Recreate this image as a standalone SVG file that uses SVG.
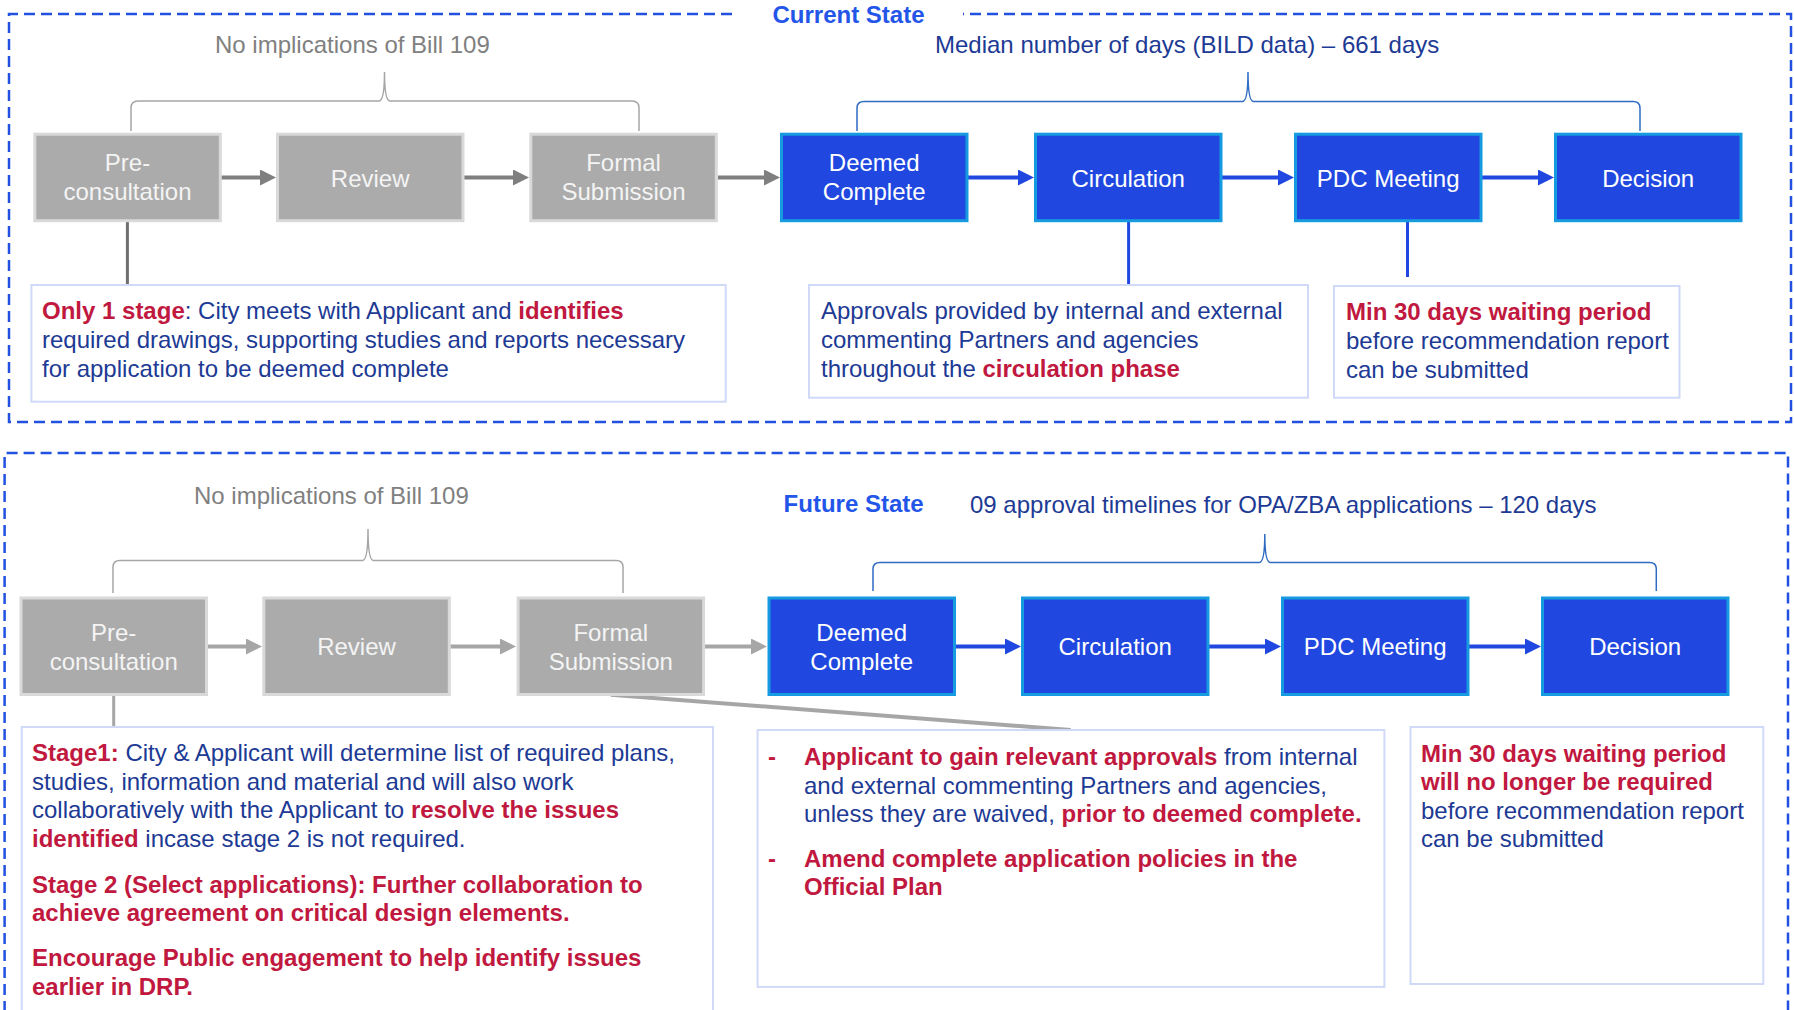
<svg xmlns="http://www.w3.org/2000/svg" width="1794" height="1010" viewBox="0 0 1794 1010">
  <style>
    text { font-family: "Liberation Sans", Arial, sans-serif; font-size: 24px; }
    .frame { fill: none; stroke: #2250E0; stroke-width: 2.5; stroke-dasharray: 11 6; }
    .title { font-weight: bold; fill: #2356E8; }
    .note { fill: #808080; }
    .navy { fill: #1D3A94; }
    .red { fill: #C0183E; font-weight: bold; }
    .grey-node rect { fill: #ABABAB; stroke: #D9D9D9; stroke-width: 3; }
    .blue-node rect { fill: #2048E0; stroke: #179BE0; stroke-width: 3; }
    .grey-node text { fill: #F4F4F4; text-anchor: middle; }
    .blue-node text { fill: #FFFFFF; text-anchor: middle; }
    .box rect { fill: #FFFFFF; stroke: #D0D9F7; stroke-width: 2; }
    .brace-grey { fill: none; stroke: #A6A6A6; stroke-width: 1.5; }
    .brace-blue { fill: none; stroke: #2F6BC2; stroke-width: 1.5; }
    .arr-dark { stroke: #7F7F7F; stroke-width: 4; marker-end: url(#head-dark); }
    .arr-light { stroke: #A6A6A6; stroke-width: 4; marker-end: url(#head-light); }
    .arr-blue { stroke: #2048E0; stroke-width: 4; marker-end: url(#head-blue); }
  </style>
  <defs>
    <marker id="head-dark" markerUnits="userSpaceOnUse" markerWidth="16" markerHeight="16" viewBox="0 0 16 16" refX="2" refY="8" orient="auto">
      <path d="M0,0 L16,8 L0,16 z" fill="#7F7F7F"/>
    </marker>
    <marker id="head-light" markerUnits="userSpaceOnUse" markerWidth="16" markerHeight="16" viewBox="0 0 16 16" refX="2" refY="8" orient="auto">
      <path d="M0,0 L16,8 L0,16 z" fill="#A6A6A6"/>
    </marker>
    <marker id="head-blue" markerUnits="userSpaceOnUse" markerWidth="16" markerHeight="16" viewBox="0 0 16 16" refX="2" refY="8" orient="auto">
      <path d="M0,0 L16,8 L0,16 z" fill="#2048E0"/>
    </marker>
  </defs>

  <rect width="1794" height="1010" fill="#FFFFFF"/>

  <!-- Current state frame -->
  <g id="current-state">
    <path class="frame" d="M732,14 L9,14 L9,422 L1791,422 L1791,14 L963,14"/>
    <text class="title" x="848.5" y="22.5" text-anchor="middle">Current State</text>
    <text class="note" x="215" y="53">No implications of Bill 109</text>
    <text class="navy" x="935" y="52.5">Median number of days (BILD data) – 661 days</text>
    <path class="brace-grey" d="M131,131 L131,108 Q131,101 138,101 L379,101 Q384.5,101 384.5,72 Q384.5,101 390,101 L632,101 Q639,101 639,108 L639,131"/>
    <path class="brace-blue" d="M857,131 L857,108 Q857,101.5 864,101.5 L1242.5,101.5 Q1248,101.5 1248,72 Q1248,101.5 1253.5,101.5 L1633,101.5 Q1640,101.5 1640,108 L1640,131"/>
  </g>

  <!-- Future state frame -->
  <g id="future-state">
    <path class="frame" d="M4.6,1012 L4.6,453 L1788,453 L1788,1012"/>
    <text class="note" x="194" y="504">No implications of Bill 109</text>
    <text class="title" x="783.6" y="511.5">Future State</text>
    <text class="navy" x="970" y="512.5">09 approval timelines for OPA/ZBA applications – 120 days</text>
    <path class="brace-grey" d="M113,593 L113,567 Q113,560.5 120,560.5 L362.5,560.5 Q368,560.5 368,529 Q368,560.5 373.5,560.5 L616,560.5 Q623,560.5 623,567 L623,593"/>
    <path class="brace-blue" d="M873,591 L873,569 Q873,562.5 880,562.5 L1259.3,562.5 Q1264.8,562.5 1264.8,534 Q1264.8,562.5 1270.3,562.5 L1649.5,562.5 Q1656.3,562.5 1656.3,569 L1656.3,591"/>
  </g>

  <!-- Connectors -->
  <g id="connectors">
    <line class="arr-dark" x1="221" y1="177.5" x2="262" y2="177.5"/>
    <line class="arr-dark" x1="464" y1="177.5" x2="515" y2="177.5"/>
    <line class="arr-dark" x1="718" y1="177.5" x2="766" y2="177.5"/>
    <line class="arr-blue" x1="968" y1="177.5" x2="1020" y2="177.5"/>
    <line class="arr-blue" x1="1222" y1="177.5" x2="1280" y2="177.5"/>
    <line class="arr-blue" x1="1482" y1="177.5" x2="1540" y2="177.5"/>
    <line x1="127.4" y1="222" x2="127.4" y2="285" stroke="#6F6F6F" stroke-width="3"/>
    <line x1="1128.6" y1="222" x2="1128.6" y2="284" stroke="#2048E0" stroke-width="3"/>
    <line x1="1407.5" y1="222" x2="1407.5" y2="277" stroke="#2048E0" stroke-width="3"/>

    <line class="arr-light" x1="207" y1="646.5" x2="248" y2="646.5"/>
    <line class="arr-light" x1="450" y1="646.5" x2="502" y2="646.5"/>
    <line class="arr-light" x1="704" y1="646.5" x2="753" y2="646.5"/>
    <line class="arr-blue" x1="955" y1="646.5" x2="1007" y2="646.5"/>
    <line class="arr-blue" x1="1209" y1="646.5" x2="1267" y2="646.5"/>
    <line class="arr-blue" x1="1469" y1="646.5" x2="1527" y2="646.5"/>
    <line x1="113.7" y1="695.6" x2="113.7" y2="726" stroke="#A6A6A6" stroke-width="3"/>
    <line x1="610.7" y1="694.7" x2="1070.7" y2="730" stroke="#A6A6A6" stroke-width="4"/>
  </g>

  <!-- Current state process steps -->
  <g id="cur-preconsultation" class="grey-node">
    <rect x="34.8" y="134.2" width="185.5" height="86.5"/>
    <text x="127.5" y="171">Pre-</text>
    <text x="127.5" y="200">consultation</text>
  </g>
  <g id="cur-review" class="grey-node">
    <rect x="277.5" y="134.2" width="185.5" height="86.5"/>
    <text x="370.2" y="186.5">Review</text>
  </g>
  <g id="cur-formal-submission" class="grey-node">
    <rect x="530.8" y="134.2" width="185.5" height="86.5"/>
    <text x="623.5" y="171">Formal</text>
    <text x="623.5" y="200">Submission</text>
  </g>
  <g id="cur-deemed-complete" class="blue-node">
    <rect x="781.5" y="134.2" width="185.5" height="86.5"/>
    <text x="874.2" y="171">Deemed</text>
    <text x="874.2" y="200">Complete</text>
  </g>
  <g id="cur-circulation" class="blue-node">
    <rect x="1035.5" y="134.2" width="185.5" height="86.5"/>
    <text x="1128.2" y="186.5">Circulation</text>
  </g>
  <g id="cur-pdc-meeting" class="blue-node">
    <rect x="1295.5" y="134.2" width="185.5" height="86.5"/>
    <text x="1388.2" y="186.5">PDC Meeting</text>
  </g>
  <g id="cur-decision" class="blue-node">
    <rect x="1555.5" y="134.2" width="185.5" height="86.5"/>
    <text x="1648.2" y="186.5">Decision</text>
  </g>

  <!-- Current state notes -->
  <g id="cur-note-preconsultation" class="box">
    <rect x="31.4" y="285" width="694.3" height="116.7"/>
    <text x="42" y="319"><tspan class="red">Only 1 stage</tspan><tspan class="navy">: City meets with Applicant and </tspan><tspan class="red">identifies</tspan></text>
    <text class="navy" x="42" y="348">required drawings, supporting studies and reports necessary</text>
    <text class="navy" x="42" y="377">for application to be deemed complete</text>
  </g>
  <g id="cur-note-circulation" class="box">
    <rect x="809" y="285" width="499" height="112.7"/>
    <text class="navy" x="821" y="319">Approvals provided by internal and external</text>
    <text class="navy" x="821" y="348">commenting Partners and agencies</text>
    <text x="821" y="377"><tspan class="navy">throughout the </tspan><tspan class="red">circulation phase</tspan></text>
  </g>
  <g id="cur-note-pdc" class="box">
    <rect x="1334" y="286" width="345.5" height="111.7"/>
    <text class="red" x="1346" y="320">Min 30 days waiting period</text>
    <text class="navy" x="1346" y="349">before recommendation report</text>
    <text class="navy" x="1346" y="377.5">can be submitted</text>
  </g>

  <!-- Future state process steps -->
  <g id="fut-preconsultation" class="grey-node">
    <rect x="21" y="598" width="185.5" height="96.5"/>
    <text x="113.7" y="641">Pre-</text>
    <text x="113.7" y="670">consultation</text>
  </g>
  <g id="fut-review" class="grey-node">
    <rect x="263.8" y="598" width="185.5" height="96.5"/>
    <text x="356.5" y="655">Review</text>
  </g>
  <g id="fut-formal-submission" class="grey-node">
    <rect x="518.1" y="598" width="185.5" height="96.5"/>
    <text x="610.8" y="641">Formal</text>
    <text x="610.8" y="670">Submission</text>
  </g>
  <g id="fut-deemed-complete" class="blue-node">
    <rect x="769" y="598" width="185.5" height="96.5"/>
    <text x="861.7" y="641">Deemed</text>
    <text x="861.7" y="670">Complete</text>
  </g>
  <g id="fut-circulation" class="blue-node">
    <rect x="1022.5" y="598" width="185.5" height="96.5"/>
    <text x="1115.2" y="655">Circulation</text>
  </g>
  <g id="fut-pdc-meeting" class="blue-node">
    <rect x="1282.5" y="598" width="185.5" height="96.5"/>
    <text x="1375.2" y="655">PDC Meeting</text>
  </g>
  <g id="fut-decision" class="blue-node">
    <rect x="1542.5" y="598" width="185.5" height="96.5"/>
    <text x="1635.2" y="655">Decision</text>
  </g>

  <!-- Future state notes -->
  <g id="fut-note-preconsultation" class="box">
    <rect x="21.7" y="727" width="691.3" height="300"/>
    <text x="32" y="761"><tspan class="red">Stage1: </tspan><tspan class="navy">City &amp; Applicant will determine list of required plans,</tspan></text>
    <text class="navy" x="32" y="789.5">studies, information and material and will also work</text>
    <text x="32" y="818"><tspan class="navy">collaboratively with the Applicant to </tspan><tspan class="red">resolve the issues</tspan></text>
    <text x="32" y="846.5"><tspan class="red">identified</tspan><tspan class="navy"> incase stage 2 is not required.</tspan></text>
    <text class="red" x="32" y="892.5">Stage 2 (Select applications): Further collaboration to</text>
    <text class="red" x="32" y="921">achieve agreement on critical design elements.</text>
    <text class="red" x="32" y="966">Encourage Public engagement to help identify issues</text>
    <text class="red" x="32" y="994.5">earlier in DRP.</text>
  </g>
  <g id="fut-note-circulation" class="box">
    <rect x="757.6" y="730" width="626.8" height="256.9"/>
    <text class="red" x="768" y="765">-</text>
    <text x="804" y="765"><tspan class="red">Applicant to gain relevant approvals</tspan><tspan class="navy"> from internal</tspan></text>
    <text class="navy" x="804" y="793.5">and external commenting Partners and agencies,</text>
    <text x="804" y="822"><tspan class="navy">unless they are waived, </tspan><tspan class="red">prior to deemed complete.</tspan></text>
    <text class="red" x="768" y="867">-</text>
    <text class="red" x="804" y="867">Amend complete application policies in the</text>
    <text class="red" x="804" y="895">Official Plan</text>
  </g>
  <g id="fut-note-pdc" class="box">
    <rect x="1410.5" y="727" width="352.8" height="257"/>
    <text class="red" x="1421" y="761.5">Min 30 days waiting period</text>
    <text class="red" x="1421" y="790">will no longer be required</text>
    <text class="navy" x="1421" y="818.5">before recommendation report</text>
    <text class="navy" x="1421" y="847">can be submitted</text>
  </g>
</svg>
